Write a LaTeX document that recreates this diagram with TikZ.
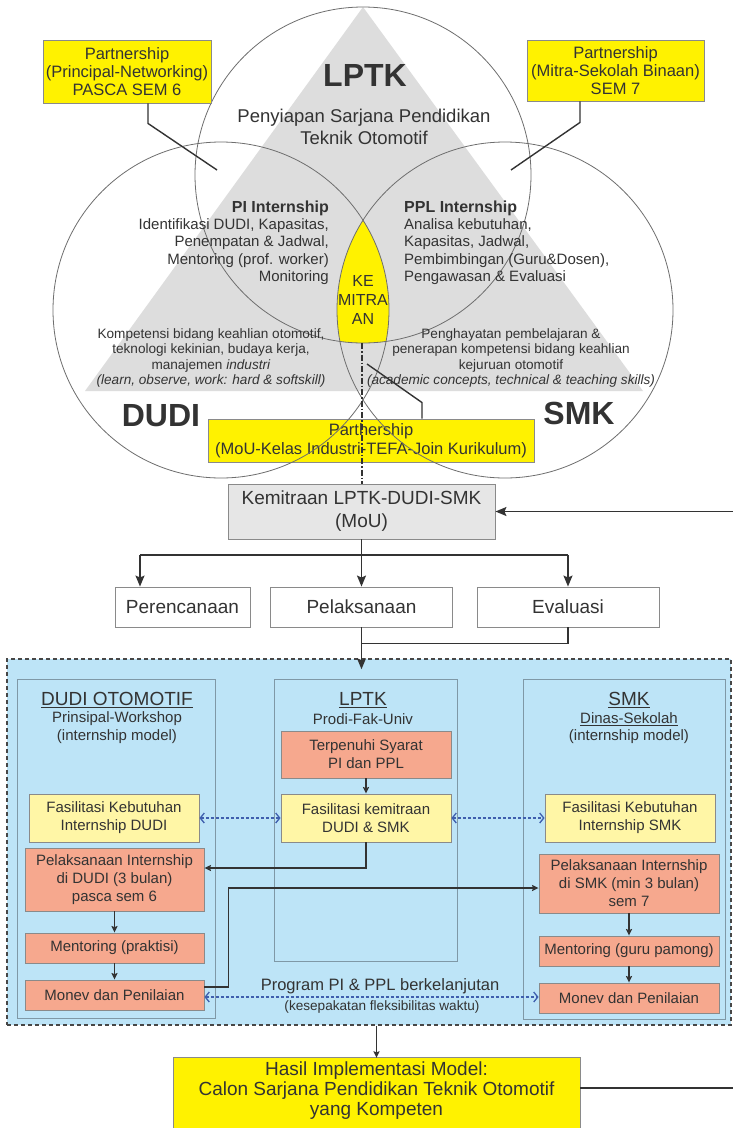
\documentclass[tikz,border=0pt]{standalone}
\usepackage{fontspec}
\setmainfont{Liberation Sans}
\usetikzlibrary{arrows.meta,calc}
\definecolor{ink}{HTML}{333333}
\definecolor{ylw}{HTML}{FFF200}
\definecolor{ylwlt}{HTML}{FFF6A6}
\definecolor{salmon}{HTML}{F6A88E}
\definecolor{skyfill}{HTML}{BDE4F7}
\definecolor{trigrey}{HTML}{DDDDDD}
\definecolor{boxgrey}{HTML}{E6E6E6}
\definecolor{edgegrey}{HTML}{8A8A8A}
\definecolor{ringgrey}{HTML}{6E6E6E}
\definecolor{paneledge}{HTML}{7F98A6}
\definecolor{dashblue}{HTML}{3F5FAE}
\newcommand{\fs}[2]{\fontsize{#1}{#2}\selectfont}
\begin{document}
\begin{tikzpicture}[x=1pt,y=-1pt,
  box/.style={draw=edgegrey, line width=0.9pt, inner sep=0pt, align=center, text=ink},
  ybox/.style={box, fill=ylw},
  lybox/.style={box, fill=ylwlt, font=\fs{15}{18}},
  sbox/.style={box, fill=salmon, font=\fs{15}{18}},
  wbox/.style={box, fill=white, font=\fs{19}{22}},
  panel/.style={draw=paneledge, line width=0.8pt, fill=skyfill},
  ring/.style={draw=ringgrey, line width=0.8pt},
  txt/.style={inner sep=0pt, text=ink},
  link/.style={draw=ink, line width=1.4pt},
  arr/.style={draw=ink, line width=1.4pt, -{Stealth[length=11pt,width=9pt,inset=2pt]}},
  sarr/.style={draw=ink, line width=1.4pt, -{Stealth[length=6.5pt,width=6pt,inset=1pt]}},
  blink/.style={draw=dashblue, line width=1.3pt, dash pattern=on 3pt off 2pt,
    {Straight Barb[length=4pt,width=10pt]}-{Straight Barb[length=4pt,width=10pt]}}
]
\clip (0,0) rectangle (733,1128);
\fill[white] (0,0) rectangle (733,1128);

% ---------- Venn part ----------
\fill[trigrey] (363,7) -- (85,391) -- (643,391) -- cycle;
\begin{scope}
  \clip (221,310) circle[radius=168pt];
  \clip (505,310) circle[radius=168pt];
  \fill[ylw] (363,175) circle[radius=168pt];
\end{scope}

\node[ybox, minimum width=326, minimum height=43, font=\fs{16.5}{19.5}] (pC) at (371,440.5)
  {Parthership\\(MoU-Kelas Industri-TEFA-Join Kurikulum)};

\draw[ring] (363,175) circle[radius=168pt];
\draw[ring] (221,310) circle[radius=168pt];
\draw[ring] (505,310) circle[radius=168pt];

\node[ybox, minimum width=168, minimum height=63, font=\fs{16.5}{18}] (pA) at (127,71.5)
  {Partnership\\(Principal-Networking)\\PASCA SEM 6};
\node[ybox, minimum width=177, minimum height=61, font=\fs{16.5}{18}] (pB) at (615.5,70.5)
  {Partnership\\(Mitra-Sekolah Binaan)\\SEM 7};

\coordinate (pAend) at (217,170);
\coordinate (pBend) at (511,170);
\coordinate (pCend) at (367,364);
\draw[link] ($(pA.south)+(21,0)$) -- ++(0,20) -- (pAend);
\draw[link] ($(pB.south)+(-35.5,0)$) -- ++(0,21) -- (pBend);
\draw[link] ($(pC.north)+(51,0)$) -- ++(0,-16) -- (pCend);

\node[txt, font=\fs{32}{36}\bfseries] (tLPTK) at (365,75) {LPTK};
\node[txt, align=center, font=\fs{18.5}{22}] (tPrep) at (364,127)
  {Penyiapan Sarjana Pendidikan\\Teknik Otomotif};
\node[txt, align=right, font=\fs{15}{17.3}, anchor=east] (tPI) at (329,242.5)
  {{\fs{16}{17.3}\bfseries PI Internship}\\Identifikasi DUDI, Kapasitas,\\Penempatan \& Jadwal,\\Mentoring (prof. worker)\\Monitoring};
\node[txt, align=left, font=\fs{15}{17.3}, anchor=west] (tPPL) at (404,242.5)
  {{\fs{16}{17.3}\bfseries PPL Internship}\\Analisa kebutuhan,\\Kapasitas, Jadwal,\\Pembimbingan (Guru\&Dosen),\\Pengawasan \& Evaluasi};
\node[txt, align=center, font=\fs{16}{19}] (tKem) at (363,300) {KE\\MITRA\\AN};
\node[txt, align=center, font=\fs{13.6}{15.3}] (tDudiC) at (211,358)
  {Kompetensi bidang keahlian otomotif,\\teknologi kekinian, budaya kerja,\\manajemen \textit{industri}\\\textit{(learn, observe, work: hard \& softskill)}};
\node[txt, align=center, font=\fs{13.6}{15.3}] (tSmkC) at (511,358)
  {Penghayatan pembelajaran \&\\penerapan kompetensi bidang keahlian\\kejuruan otomotif\\\textit{(academic concepts, technical \& teaching skills)}};
\node[txt, font=\fs{32}{36}\bfseries] (tDUDI) at (161,416) {DUDI};
\node[txt, font=\fs{32}{36}\bfseries] (tSMK) at (579,413) {SMK};

% ---------- MoU and stages ----------
\node[box, fill=boxgrey, minimum width=267, minimum height=55, font=\fs{19}{23}] (kem) at (361.5,511.5)
  {Kemitraan LPTK-DUDI-SMK\\(MoU)};
\coordinate (lensbot) at (362,343);
\draw[draw=ink, line width=1.3pt, dash pattern=on 6pt off 2pt on 1.5pt off 2pt] (lensbot) -- (lensbot |- kem.north);

\node[wbox, minimum width=135, minimum height=40] (peren) at (182.5,607) {Perencanaan};
\node[wbox, minimum width=182, minimum height=40] (pel) at (361.5,607) {Pelaksanaan};
\node[wbox, minimum width=182, minimum height=40] (eval) at (568,607) {Evaluasi};

\coordinate (split) at (361.5,555);
\coordinate (brL) at (140,555);
\coordinate (brR) at (568,555);
\draw[link] (kem.south) -- (split);
\draw[link] (brL) -- (brR);
\draw[arr] (brL) -- (brL |- peren.north);
\draw[arr] (split) -- (pel.north);
\draw[arr] (brR) -- (eval.north);

\coordinate (fbtop) at (733,513);
\draw[arr] (kem.east -| fbtop) -- (kem.east);

% ---------- implementation area ----------
\node[draw=ink!90, line width=1.5pt, dash pattern=on 4pt off 3pt, fill=skyfill,
  minimum width=724, minimum height=366, inner sep=0pt] (impl) at (369,842) {};
\draw[link] (eval.south) |- ($(pel.south)+(0,16)$);
\draw[arr, shorten >=-11pt] (pel.south) -- (pel.south |- impl.north);

\draw[panel] (17,679) rectangle (215,1018);
\draw[panel] (274,679) rectangle (457,961);
\draw[panel] (523,679) rectangle (725,1019);

\node[txt, font=\fs{19}{22}] (hDudi) at (117,700) {\underline{DUDI OTOMOTIF}};
\node[txt, font=\fs{15}{18}] (hDudi2) at (117,719) {Prinsipal-Workshop};
\node[txt, font=\fs{15}{18}] (hDudi3) at (117,737) {(internship model)};
\node[txt, font=\fs{19}{22}] (hLptk) at (363,700) {\underline{LPTK}};
\node[txt, font=\fs{15}{18}] (hLptk2) at (363,719) {Prodi-Fak-Univ};
\node[txt, font=\fs{19}{22}] (hSmk) at (629,700) {\underline{SMK}};
\node[txt, font=\fs{15}{18}] (hSmk2) at (629,719) {\underline{Dinas-Sekolah}};
\node[txt, font=\fs{15}{18}] (hSmk3) at (629,737) {(internship model)};

\node[sbox, minimum width=170, minimum height=47] (terp) at (366,754.5) {Terpenuhi Syarat\\PI dan PPL};
\node[lybox, minimum width=170, minimum height=48] (faskem) at (366,818) {Fasilitasi kemitraan\\DUDI \& SMK};
\node[lybox, minimum width=170, minimum height=48] (fasd) at (114,818) {Fasilitasi Kebutuhan\\Internship DUDI};
\node[lybox, minimum width=170, minimum height=48] (fass) at (630,818) {Fasilitasi Kebutuhan\\Internship SMK};

\node[sbox, minimum width=179, minimum height=63] (peld) at (114.5,879.5) {Pelaksanaan Internship\\di DUDI (3 bulan)\\pasca sem 6};
\node[sbox, minimum width=179, minimum height=30] (mentd) at (114.5,948) {Mentoring (praktisi)};
\node[sbox, minimum width=179, minimum height=30] (monevd) at (114.5,995) {Monev dan Penilaian};

\node[sbox, minimum width=180, minimum height=59] (pels) at (629,883.5) {Pelaksanaan Internship\\di SMK (min 3 bulan)\\sem 7};
\node[sbox, minimum width=180, minimum height=30] (ments) at (629,951) {Mentoring (guru pamong)};
\node[sbox, minimum width=180, minimum height=30] (monevs) at (629,998) {Monev dan Penilaian};

\draw[sarr] (terp.south) -- (faskem.north);
\draw[sarr] (peld.south) -- (mentd.north);
\draw[sarr] (mentd.south) -- (monevd.north);
\draw[sarr] (pels.south) -- (ments.north);
\draw[sarr] (ments.south) -- (monevs.north);

\draw[sarr] (faskem.south) |- ($(peld.east)+(0,-11.5)$);
\draw[sarr] ($(monevd.east)+(0,-8)$) -- ++(24,0) |- ($(pels.west)+(0,4.5)$);

\draw[blink] (fasd.east) -- (faskem.west);
\draw[blink] (faskem.east) -- (fass.west);
\draw[blink] ($(monevd.east)+(0,2)$) -- ($(monevs.west)+(0,-1)$);

\node[txt, font=\fs{16.5}{19}] (prog) at (380,986) {Program PI \& PPL berkelanjutan};
\node[txt, font=\fs{13.6}{16}] (kesep) at (382,1007) {(kesepakatan fleksibilitas waktu)};

% ---------- result ----------
\fill[ylw, draw=edgegrey, line width=0.9pt] (173,1057) rectangle (580,1140);
\node[txt, align=center, font=\fs{19}{20}, minimum width=407, minimum height=66] (hasil) at (376.5,1091)
  {Hasil Implementasi Model:\\Calon Sarjana Pendidikan Teknik Otomotif\\yang Kompeten};
\draw[sarr] (hasil.north |- impl.south) -- (hasil.north);
\coordinate (fbbot) at (733,1088);
\draw[link] (hasil.east |- fbbot) -- (fbbot);
\end{tikzpicture}
\end{document}
